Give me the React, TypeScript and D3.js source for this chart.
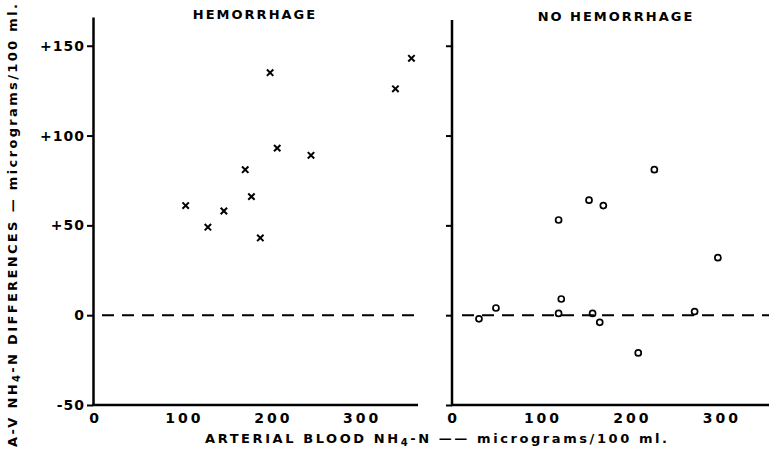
import * as d3 from 'd3';
import React, { useRef, useEffect } from 'react';

// hemorrhage group (x markers): arterial NH4-N vs A-V difference
const hemArterial = [102, 127, 145, 169, 176, 186, 197, 205, 243, 338, 356];
const hemDiff = [61, 49, 58, 81, 66, 43, 135, 93, 89, 126, 143];

// no hemorrhage group (o markers)
const noHemArterial = [29, 48, 118, 121, 118, 152, 168, 225, 156, 164, 207, 270, 296];
const noHemDiff = [-2, 4, 1, 9, 53, 64, 61, 81, 1, -4, -21, 2, 32];

const yTicks = [-50, 0, 50, 100, 150];
const xTicks = [0, 100, 200, 300];

const font = "'DejaVu Sans', sans-serif";

function App() {
  const plotRef = useRef<SVGGElement>(null);
  const width = 769;
  const height = 455;

  useEffect(() => {
    const svg = d3.select(plotRef.current);
    svg.selectAll('*').remove();

    const yScale = d3.scaleLinear().domain([-50, 166]).range([405, 17]);
    const xLeft = d3.scaleLinear().domain([0, 360]).range([95, 415]);
    const xRight = d3.scaleLinear().domain([0, 352]).range([453, 768]);

    const fmt = (d: any) => (d > 0 ? '+' + d : d < 0 ? '-' + Math.abs(d) : '0');

    // left y axis
    const yAxisLeft = d3.axisLeft(yScale).tickValues(yTicks).tickSize(6).tickSizeOuter(0).tickPadding(2).tickFormat(fmt);
    const gl = svg.append('g').attr('transform', 'translate(93,0)').call(yAxisLeft);
    gl.select('.domain').attr('stroke-width', 2.5);
    gl.selectAll('.tick line').attr('stroke-width', 2);
    gl.selectAll('.tick text')
      .attr('font-family', font)
      .attr('font-weight', 'bold')
      .attr('font-size', 14)
      .attr('letter-spacing', 1);

    // right y axis (no labels)
    const yAxisRight = d3.axisLeft(yScale).tickValues(yTicks).tickSize(6).tickSizeOuter(0).tickFormat(() => '');
    const gr = svg.append('g').attr('transform', 'translate(452,0)').call(yAxisRight);
    gr.select('.domain').attr('stroke-width', 2.5).attr('d', `M0,${yScale(-50)}V20`);
    gr.selectAll('.tick line').attr('stroke-width', 2);

    // x axes
    const drawX = (scale: any, y: number, x0: number, x1: number) => {
      const axis = d3.axisBottom(scale).tickValues(xTicks).tickSize(0).tickPadding(8).tickFormat((d: any) => d);
      const g = svg.append('g').attr('transform', `translate(0,${y})`).call(axis);
      g.select('.domain').attr('stroke-width', 2.5).attr('d', `M${x0},0H${x1}`);
      g.selectAll('.tick text')
        .attr('font-family', font)
        .attr('font-weight', 'bold')
        .attr('font-size', 14)
        .attr('letter-spacing', 3);
    };
    drawX(xLeft, 405, 92, 418);
    drawX(xRight, 405, 451, 769);

    // dashed zero lines
    svg.append('line')
      .attr('x1', 102).attr('x2', 418)
      .attr('y1', yScale(0)).attr('y2', yScale(0))
      .attr('stroke', '#000').attr('stroke-width', 2).attr('stroke-dasharray', '12,8');
    svg.append('line')
      .attr('x1', 462).attr('x2', 769)
      .attr('y1', yScale(0)).attr('y2', yScale(0))
      .attr('stroke', '#000').attr('stroke-width', 2).attr('stroke-dasharray', '12,8');

    // x markers
    const s = 3.2;
    svg.selectAll('.hem')
      .data(hemArterial)
      .join('path')
      .attr('class', 'hem')
      .attr('d', (d, i) => {
        const cx = xLeft(d);
        const cy = yScale(hemDiff[i]);
        return `M${cx - s},${cy - s}L${cx + s},${cy + s}M${cx + s},${cy - s}L${cx - s},${cy + s}`;
      })
      .attr('stroke', '#000')
      .attr('stroke-width', 2)
      .attr('fill', 'none');

    // o markers
    svg.selectAll('.nohem')
      .data(noHemArterial)
      .join('circle')
      .attr('class', 'nohem')
      .attr('cx', (d) => xRight(d))
      .attr('cy', (d, i) => yScale(noHemDiff[i]))
      .attr('r', 3)
      .attr('fill', 'none')
      .attr('stroke', '#000')
      .attr('stroke-width', 1.7);
  }, []);

  const bold = { fontFamily: font, fontWeight: 'bold' as const };

  return (
    <svg
      width={width}
      height={height}
      style={{ position: 'absolute', left: 0, top: 0, background: '#fff' }}
    >
      <g ref={plotRef} />
      <text x={255} y={19} textAnchor="middle" fontSize={13} letterSpacing={2} style={bold}>
        HEMORRHAGE
      </text>
      <text x={616} y={21} textAnchor="middle" fontSize={13} letterSpacing={2} style={bold}>
        NO HEMORRHAGE
      </text>
      <text x={205} y={443} fontSize={13} textLength={462} lengthAdjust="spacing" style={bold}>
        ARTERIAL BLOOD NH<tspan fontSize={10} dy={3}>4</tspan>
        <tspan dy={-3}>-N —— micrograms/100 ml.</tspan>
      </text>
      <text
        transform="translate(17,447) rotate(-90)"
        x={0}
        y={0}
        fontSize={13}
        textLength={443}
        lengthAdjust="spacing"
        style={bold}
      >
        A-V NH<tspan fontSize={10} dy={3}>4</tspan>
        <tspan dy={-3}>-N DIFFERENCES — micrograms/100 ml.</tspan>
      </text>
    </svg>
  );
}

export default App;
